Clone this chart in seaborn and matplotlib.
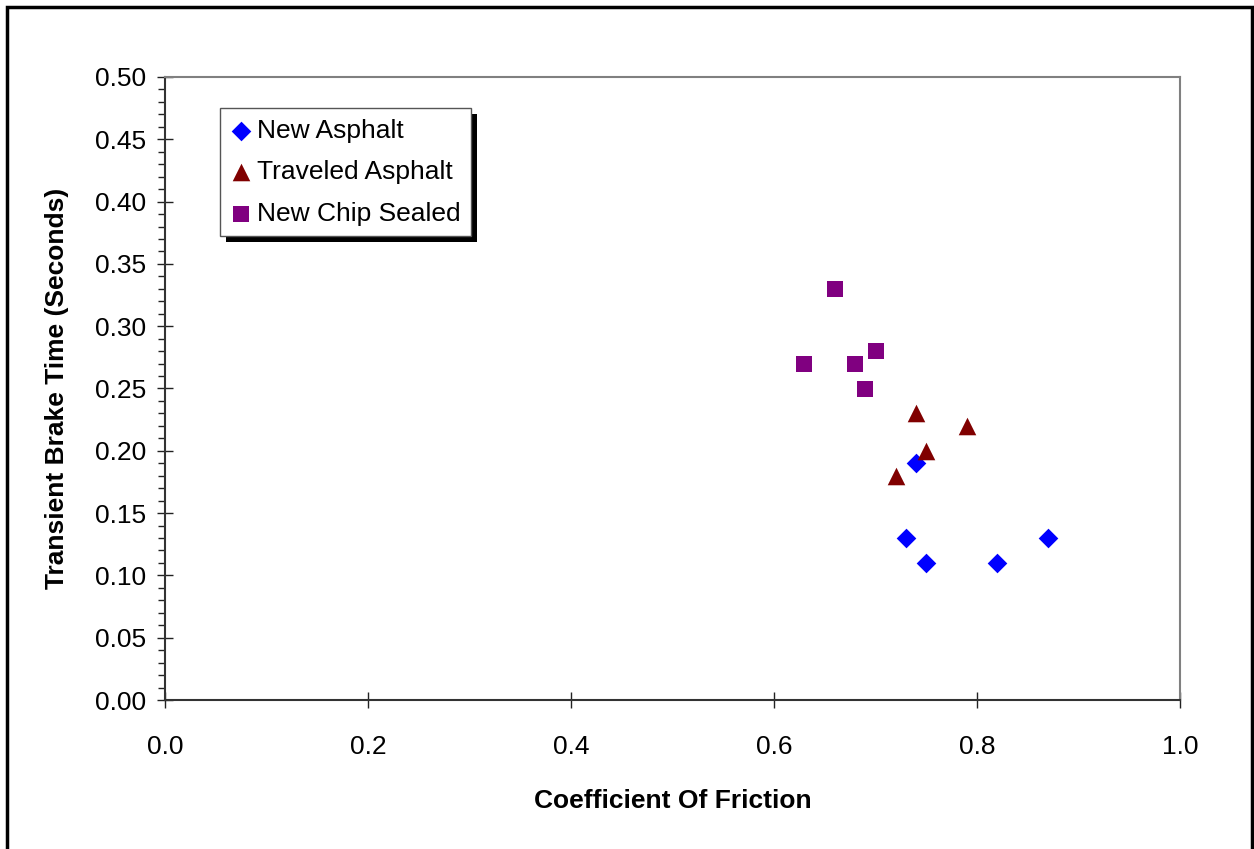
import matplotlib
matplotlib.use("Agg")
import matplotlib.pyplot as plt
from matplotlib.patches import Rectangle
from matplotlib.ticker import MultipleLocator, FormatStrFormatter
import seaborn as sns
import pandas as pd

# ---- data ----
new_asphalt_x = [0.74, 0.73, 0.75, 0.82, 0.87]
new_asphalt_y = [0.19, 0.13, 0.11, 0.11, 0.13]
traveled_x = [0.74, 0.79, 0.75, 0.72]
traveled_y = [0.23, 0.22, 0.20, 0.18]
chip_x = [0.66, 0.70, 0.63, 0.68, 0.69]
chip_y = [0.33, 0.28, 0.27, 0.27, 0.25]
series_names = ["New Asphalt", "Traveled Asphalt", "New Chip Sealed"]

df = pd.concat([
    pd.DataFrame({"x": new_asphalt_x, "y": new_asphalt_y, "Surface": series_names[0]}),
    pd.DataFrame({"x": traveled_x, "y": traveled_y, "Surface": series_names[1]}),
    pd.DataFrame({"x": chip_x, "y": chip_y, "Surface": series_names[2]}),
])

sns.set_style("white")
plt.rcParams['font.family'] = ['Liberation Sans', 'DejaVu Sans']
plt.rcParams['text.color'] = 'black'
plt.rcParams['axes.labelcolor'] = 'black'
plt.rcParams['xtick.color'] = 'black'
plt.rcParams['ytick.color'] = 'black'

FS = 19

fig = plt.figure(figsize=(12.54, 8.49), dpi=100)
ax = fig.add_axes([165/1254, 1-700/849, (1180-165)/1254, (700-77)/849])

palette = {series_names[0]: "#0000FF", series_names[1]: "#800000", series_names[2]: "#800080"}
markers = {series_names[0]: "D", series_names[1]: "^", series_names[2]: "s"}
sizes_map = {series_names[0]: 100, series_names[1]: 160, series_names[2]: 130}

for name in series_names:
    sub = df[df["Surface"] == name]
    sns.scatterplot(data=sub, x="x", y="y", color=palette[name], marker=markers[name],
                    s=sizes_map[name], linewidth=0, ax=ax, label=name, zorder=3)

ax.set_xlim(0, 1.0)
ax.set_ylim(0, 0.5)
ax.xaxis.set_major_locator(MultipleLocator(0.2))
ax.xaxis.set_major_formatter(FormatStrFormatter('%.1f'))
ax.yaxis.set_major_locator(MultipleLocator(0.05))
ax.yaxis.set_minor_locator(MultipleLocator(0.01))
ax.yaxis.set_major_formatter(FormatStrFormatter('%.2f'))

ax.tick_params(axis='y', which='major', direction='inout', length=11, width=1,
               labelsize=FS, pad=8, left=True, color='#222222', labelcolor='black')
ax.tick_params(axis='y', which='minor', direction='out', length=5, width=1, left=True, color='#222222')
ax.tick_params(axis='x', which='major', direction='inout', length=11, width=1,
               labelsize=FS, pad=20, bottom=True, color='#222222', labelcolor='black')

for side in ['left', 'bottom']:
    ax.spines[side].set_color('#333333')
    ax.spines[side].set_linewidth(1.5)
for side in ['top', 'right']:
    ax.spines[side].set_color('#808080')
    ax.spines[side].set_linewidth(1.5)

ax.set_xlabel("Coefficient Of Friction", fontsize=FS, fontweight='bold', labelpad=21, color='black')
ax.set_ylabel("Transient Brake Time (Seconds)", fontsize=FS, fontweight='bold', labelpad=19, color='black')

handles, labels = ax.get_legend_handles_labels()
leg = ax.legend(handles, labels, loc='upper left', bbox_to_anchor=(0.054, 0.950),
                fontsize=FS, frameon=True, fancybox=False, framealpha=1,
                edgecolor='#555555', handletextpad=0.2, borderpad=0.4,
                labelspacing=0.66, handlelength=0.8, borderaxespad=0,
                markerscale=1.0)
leg.get_frame().set_linewidth(1)
leg.set_zorder(5)
for t in leg.get_texts():
    t.set_color('black')

fig.canvas.draw()
bb = leg.get_window_extent().transformed(fig.transFigure.inverted())
dx, dy = 6/1254, 6/849
shadow = Rectangle((bb.x0 + dx, bb.y0 - dy), bb.width, bb.height, transform=fig.transFigure,
                   facecolor='black', edgecolor='none', zorder=4)
ax.add_artist(shadow)
shadow.set_clip_on(False)

# figure border
border = Rectangle((7/1254, -0.05), (1252-7)/1254, 1 - 7/849 + 0.05, transform=fig.transFigure,
                   facecolor='none', edgecolor='black', linewidth=2.5)
fig.patches.append(border)

fig.savefig("out.png", dpi=100, facecolor='white')
